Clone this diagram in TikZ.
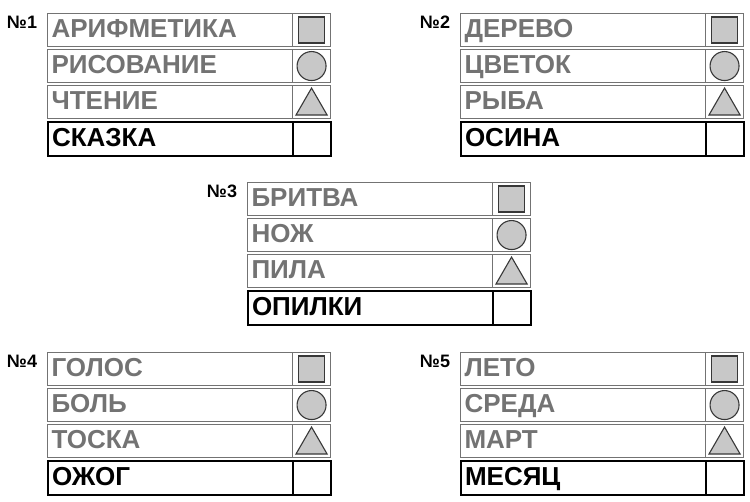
\documentclass[tikz,border=0pt]{standalone}
\usepackage{fontspec}
\setmainfont{Liberation Sans}
\usetikzlibrary{shapes.geometric}
\definecolor{txtgray}{HTML}{737373}
\definecolor{figfill}{HTML}{C8C8C8}
\definecolor{figline}{HTML}{383838}

\begin{document}
\begin{tikzpicture}[x=1pt,y=-1pt]
    \tikzstyle{word}=[draw=txtgray,line width=1.1pt,anchor=north west,minimum width=245pt,minimum height=33pt,inner sep=0pt,text width=237pt,text height=18pt,text depth=3pt,align=left,font=\bfseries\fontsize{26}{28}\selectfont,text=txtgray]
    \tikzstyle{cell}=[draw=txtgray,line width=1.1pt,anchor=north west,minimum width=38pt,minimum height=33pt,inner sep=0pt]
    \tikzstyle{answer}=[draw=black,line width=2pt,text=black,minimum height=34pt]
    \tikzstyle{sq}=[draw=figline,fill=figfill,line width=1.6pt,minimum size=26pt,inner sep=0pt]
    \tikzstyle{circ}=[circle,draw=figline,fill=figfill,line width=1.1pt,minimum size=29pt,inner sep=0pt]
    \tikzstyle{tri}=[regular polygon,regular polygon sides=3,draw=figline,fill=figfill,line width=1.1pt,minimum size=36pt,inner sep=0pt]
    \tikzstyle{num}=[font=\bfseries\fontsize{18}{20}\selectfont]

    \useasboundingbox (0,0) rectangle (750,502);

    % Blocks
    \foreach \n/\dx/\dy/\a/\b/\c/\d in {
        1/0/0/АРИФМЕТИКА/РИСОВАНИЕ/ЧТЕНИЕ/СКАЗКА,
        2/413/0/ДЕРЕВО/ЦВЕТОК/РЫБА/ОСИНА,
        3/200/169/БРИТВА/НОЖ/ПИЛА/ОПИЛКИ,
        4/0/339/ГОЛОС/БОЛЬ/ТОСКА/ОЖОГ,
        5/413/339/ЛЕТО/СРЕДА/МАРТ/МЕСЯЦ}
    {
        \begin{scope}[shift={(\dx,\dy)}]
            \node[num] (num\n) at (22,22) {№\n};
            \node[word] (w\n a) at (47,13) {\a};
            \node[word] (w\n b) at (47,49) {\b};
            \node[word] (w\n c) at (47,85) {\c};
            \node[word,answer] (w\n d) at (47,121) {\d};
            \node[cell] (c\n a) at (292,13) {};
            \node[cell] (c\n b) at (292,49) {};
            \node[cell] (c\n c) at (292,85) {};
            \node[cell,answer] (c\n d) at (292,121) {};
            \node[sq] (s\n) at (c\n a) {};
            \node[circ] (o\n) at (c\n b) {};
            \node[tri] (t\n) at ([yshift=-4pt]c\n c.center) {};
        \end{scope}
    }
\end{tikzpicture}
\end{document}
